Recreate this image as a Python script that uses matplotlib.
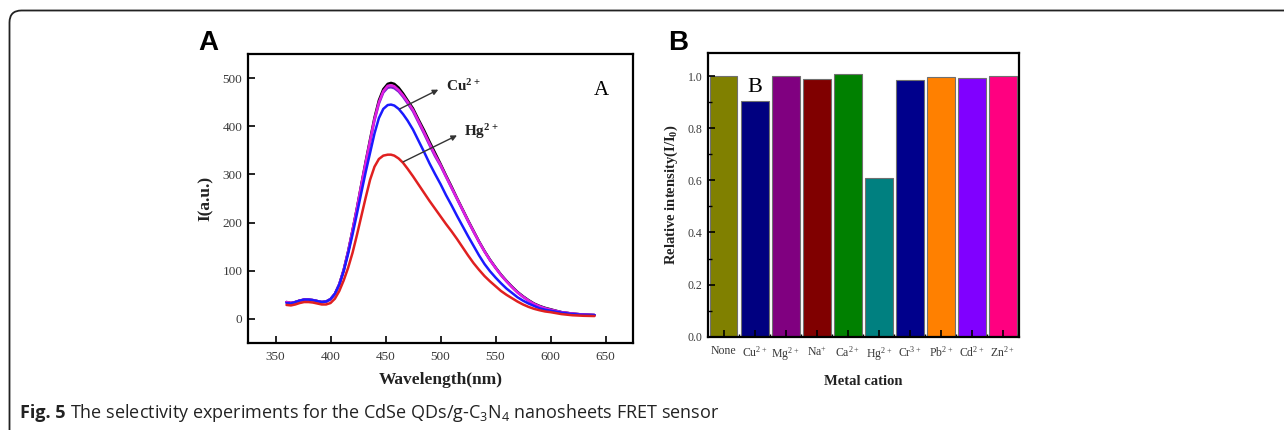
import matplotlib
matplotlib.use("Agg")
import matplotlib.pyplot as plt
from matplotlib.path import Path
from matplotlib.patches import PathPatch
from matplotlib.ticker import MultipleLocator, FixedLocator, FormatStrFormatter

plt.rcParams['mathtext.default'] = 'regular'

# ---------------- Data: panel A (emission spectra) ----------------
wavelength = [360, 364, 368, 372, 376, 380, 384, 388, 392, 396, 400, 404, 408, 412, 416,
              420, 424, 428, 432, 436, 440, 444, 448, 452, 455, 458, 462, 466, 470, 475,
              480, 485, 490, 495, 500, 505, 510, 515, 520, 525, 530, 535, 540, 545, 550,
              555, 560, 565, 570, 575, 580, 585, 590, 595, 600, 610, 620, 630, 640]
I_black = [35, 33, 35, 38, 40, 40, 39, 37, 35, 36, 41, 52, 72, 102, 140,
           184, 230, 279, 327, 373, 418, 454, 477, 488, 490, 488, 480, 468, 454, 437,
           414, 392, 368, 345, 322, 298, 275, 251, 228, 205, 183, 161, 141, 123, 107,
           92, 79, 67, 56, 47, 39, 32, 27, 23, 20, 14, 11, 9, 8]
I_purple = [35, 33, 35, 38, 40, 40, 39, 37, 35, 36, 41, 52, 72, 101, 139,
            182, 228, 276, 323, 368, 412, 447, 470, 480, 481, 479, 472, 461, 448, 431,
            408, 385, 361, 338, 318, 295, 272, 249, 226, 203, 181, 160, 140, 122, 106,
            91, 78, 66, 55, 46, 38, 31, 26, 22, 19, 14, 11, 9, 8]
I_magenta = [35, 33, 35, 38, 40, 40, 39, 37, 35, 36, 41, 52, 72, 101, 139,
             183, 229, 278, 325, 370, 415, 450, 473, 484, 485, 483, 475, 464, 451, 434,
             411, 388, 364, 341, 320, 296, 273, 250, 227, 204, 182, 160, 140, 122, 106,
             91, 78, 66, 55, 46, 38, 31, 26, 22, 19, 14, 11, 9, 8]
I_blue = [33, 32, 35, 38, 40, 40, 39, 37, 35, 36, 41, 52, 71, 99, 135,
          175, 218, 262, 305, 345, 385, 417, 436, 444, 445, 443, 436, 425, 412, 393,
          370, 347, 323, 301, 280, 257, 236, 214, 193, 172, 152, 132, 114, 99, 86,
          74, 63, 54, 45, 38, 32, 27, 22, 19, 17, 13, 10, 8.5, 8]
I_red = [29, 28, 30, 33, 35, 35, 34, 32, 30, 30, 33, 42, 58, 80, 106,
         137, 174, 213, 252, 289, 316, 332, 339, 341, 341, 339, 333, 324, 312, 296,
         279, 262, 245, 229, 213, 197, 182, 166, 149, 132, 116, 102, 89, 78, 68,
         58, 50, 43, 36, 30, 25, 21, 18, 15.5, 14, 10, 7.6, 6.5, 6]

# ---------------- Data: panel B (relative intensity) ----------------
cations = ['None', 'Cu$^{2+}$', 'Mg$^{2+}$', 'Na$^{+}$', 'Ca$^{2+}$', 'Hg$^{2+}$',
           'Cr$^{3+}$', 'Pb$^{2+}$', 'Cd$^{2+}$', 'Zn$^{2+}$']
rel_intensity = [1.0, 0.905, 1.0, 0.99, 1.007, 0.61, 0.987, 0.995, 0.993, 1.0]
bar_colors = ['#808000', '#000080', '#800080', '#800000', '#008000', '#008080',
              '#00008c', '#ff8000', '#8000ff', '#ff0080']

SERIF = 'Liberation Serif'
TICKC = '#3a3a3a'

fig = plt.figure(figsize=(12.84, 4.30), dpi=100)

# ---------------- outer frame with rounded corner ----------------
W, H = 1284.0, 430.0
r = 12.0
x0, y0 = 9.5, 10.5
verts = [(x0 / W, 0.0), (x0 / W, 1 - (y0 + r) / H),
         (x0 / W, 1 - y0 / H), ((x0 + r) / W, 1 - y0 / H),
         (1.0, 1 - y0 / H)]
codes = [Path.MOVETO, Path.LINETO, Path.CURVE3, Path.CURVE3, Path.LINETO]
fig.patches.append(PathPatch(Path(verts, codes), transform=fig.transFigure,
                             fill=False, lw=1.3, edgecolor='#222222'))

# ---------------- Panel A ----------------
axA = fig.add_axes([248 / W, 1 - 343 / H, 385 / W, 289 / H])
for yv, c in [(I_black, '#000000'), (I_purple, '#7a1fd0'), (I_magenta, '#e020e0'),
              (I_blue, '#1a1aff'), (I_red, '#e02020')]:
    axA.plot(wavelength, yv, color=c, lw=1.8, solid_capstyle='round',
             solid_joinstyle='round')
axA.set_xlim(325, 675)
axA.set_ylim(-50, 550)
axA.xaxis.set_major_locator(FixedLocator([350, 400, 450, 500, 550, 600, 650]))
axA.yaxis.set_major_locator(FixedLocator([0, 100, 200, 300, 400, 500]))
axA.tick_params(direction='in', length=5, width=1.2, labelsize=9.5, labelcolor=TICKC,
                pad=4)
axA.tick_params(axis='x', pad=6)
for lab in axA.get_xticklabels() + axA.get_yticklabels():
    lab.set_family(SERIF)
for s in axA.spines.values():
    s.set_linewidth(1.6)
axA.set_xlabel('Wavelength(nm)', family=SERIF, fontweight='bold', fontsize=12.5,
               color='#222222', labelpad=6)
axA.set_ylabel('I(a.u.)', family=SERIF, fontweight='bold', fontsize=12.5,
               color='#222222', labelpad=6)
axA.text(646, 474, 'A', family=SERIF, fontsize=15, ha='center', va='center')
axA.annotate('', xy=(498, 476), xytext=(463, 436),
             arrowprops=dict(arrowstyle='-|>', color='#333333', lw=1.0,
                             mutation_scale=8, shrinkA=0, shrinkB=0))
axA.annotate('', xy=(515, 381), xytext=(466, 326),
             arrowprops=dict(arrowstyle='-|>', color='#333333', lw=1.0,
                             mutation_scale=8, shrinkA=0, shrinkB=0))
axA.text(505, 484, 'Cu$^{2+}$', family=SERIF, fontweight='bold', fontsize=11,
         ha='left', va='center', color='#222222')
axA.text(521, 388, 'Hg$^{2+}$', family=SERIF, fontweight='bold', fontsize=11,
         ha='left', va='center', color='#222222')

# ---------------- Panel B ----------------
axB = fig.add_axes([708.3 / W, 1 - 336.7 / H, 310.7 / W, 284 / H])
xpos = list(range(len(cations)))
axB.bar(xpos, rel_intensity, width=0.9, color=bar_colors, edgecolor='#707070',
        linewidth=0.8)
axB.set_xlim(-0.49, 9.52)
axB.set_ylim(0, 1.09)
axB.set_xticks(xpos)
axB.set_xticklabels(cations)
axB.xaxis.set_minor_locator(FixedLocator([i + 0.5 for i in range(-1, 10)]))
axB.yaxis.set_major_locator(MultipleLocator(0.2))
axB.yaxis.set_minor_locator(MultipleLocator(0.1))
axB.tick_params(direction='in', length=5, width=1.2, labelsize=8.5, labelcolor=TICKC,
                pad=4)
axB.tick_params(which='minor', direction='in', length=3, width=1.0)
axB.tick_params(axis='x', pad=6)
axB.tick_params(axis='x', which='minor', length=2)
axB.yaxis.set_major_formatter(FormatStrFormatter('%.1f'))
for lab in axB.get_xticklabels() + axB.get_yticklabels():
    lab.set_family(SERIF)
for s in axB.spines.values():
    s.set_linewidth(1.6)
axB.set_xlabel('Metal cation', family=SERIF, fontweight='bold', fontsize=10.5,
               color='#222222', labelpad=9)
axB.set_ylabel('Relative intensity(I/I$_0$)', family=SERIF, fontweight='bold',
               fontsize=10.5, color='#222222', labelpad=6)
axB.text(1, 0.958, 'B', family=SERIF, fontsize=16, ha='center', va='center')

# ---------------- panel letters ----------------
fig.text(198 / W, 1 - 50 / H, 'A', family='Liberation Sans', fontweight='bold',
         fontsize=20, ha='left', va='baseline')
fig.text(668 / W, 1 - 50 / H, 'B', family='Liberation Sans', fontweight='bold',
         fontsize=20, ha='left', va='baseline')

# ---------------- caption ----------------
t1 = fig.text(20 / W, 1 - 418 / H, 'Fig. 5', family='Open Sans', fontweight='bold',
              fontsize=13, ha='left', va='baseline', color='#222222')
fig.canvas.draw()
bb = t1.get_window_extent(renderer=fig.canvas.get_renderer())
fig.text((bb.x1 + 5) / W, 1 - 418 / H,
         'The selectivity experiments for the CdSe QDs/g-C$_3$N$_4$ nanosheets FRET sensor',
         family='Open Sans', fontsize=13, ha='left', va='baseline', color='#222222')

fig.savefig('out.png', dpi=100)
